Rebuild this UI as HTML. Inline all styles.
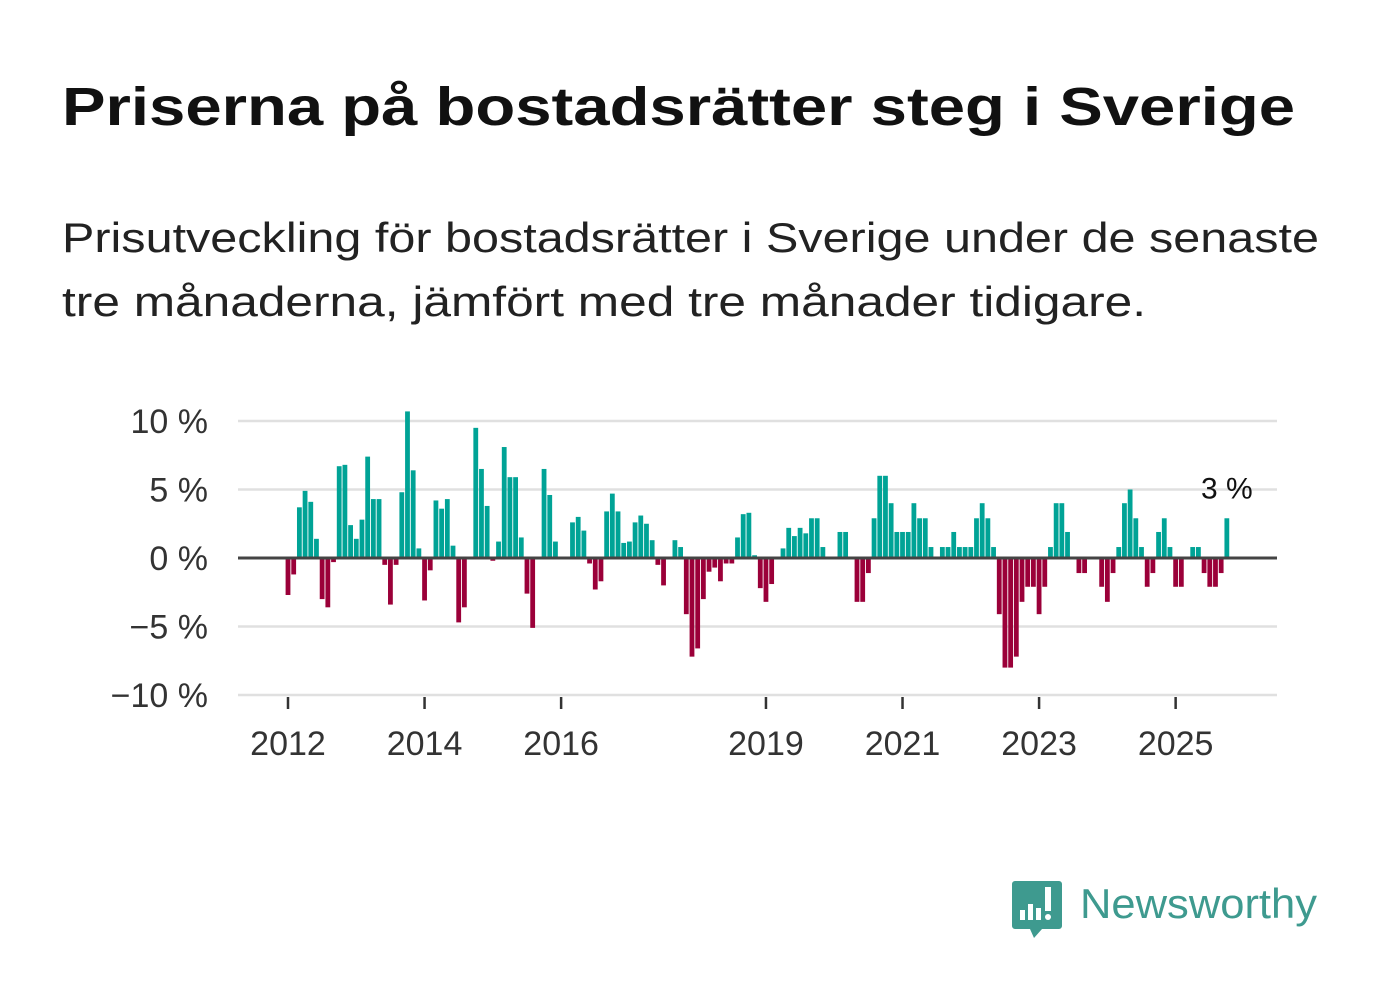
<!DOCTYPE html>
<html><head><meta charset="utf-8"><style>
html,body{margin:0;padding:0;background:#fff;}
svg{display:block;font-family:"Liberation Sans",sans-serif;}
</style></head><body>
<svg id="chart" width="1382" height="999" viewBox="0 0 1382 999" xmlns="http://www.w3.org/2000/svg">
<text x="62" y="125" font-size="54" font-weight="bold" fill="#111" textLength="1233" lengthAdjust="spacingAndGlyphs">Priserna på bostadsrätter steg i Sverige</text>
<text x="62" y="252" font-size="42" fill="#222" textLength="1257" lengthAdjust="spacingAndGlyphs">Prisutveckling för bostadsrätter i Sverige under de senaste</text>
<text x="62" y="316" font-size="42" fill="#222" textLength="1084" lengthAdjust="spacingAndGlyphs">tre månaderna, jämfört med tre månader tidigare.</text>
<g id="grid"></g>
<g id="bars"></g>
<g id="axes"></g>
<g>
<path d="M1015,881 h44 a3,3 0 0 1 3,3 v42 a3,3 0 0 1 -3,3 h-17 l-8,9 l-4,-9 h-15 a3,3 0 0 1 -3,-3 v-42 a3,3 0 0 1 3,-3z" fill="#3e9a8f"/>
<rect x="1020" y="910" width="5" height="10" fill="#fff"/>
<rect x="1028" y="904" width="5" height="16" fill="#fff"/>
<rect x="1036" y="908" width="5" height="12" fill="#fff"/>
<rect x="1045" y="887" width="6" height="24" fill="#fff"/>
<circle cx="1048" cy="917" r="3" fill="#fff"/>
<text x="1080" y="918" font-size="42" fill="#3e9a8f" textLength="237" lengthAdjust="spacingAndGlyphs">Newsworthy</text>
</g>
</svg>
<script>
const values = [-2.7,-1.2,3.7,4.9,4.1,1.4,-3.0,-3.6,-0.3,6.7,6.8,2.4,1.4,2.8,7.4,4.3,4.3,-0.5,-3.4,-0.5,4.8,10.7,6.4,0.7,-3.1,-0.9,4.2,3.6,4.3,0.9,-4.7,-3.6,0,9.5,6.5,3.8,-0.2,1.2,8.1,5.9,5.9,1.5,-2.6,-5.1,0,6.5,4.6,1.2,-0.1,0,2.6,3.0,2.0,-0.4,-2.3,-1.7,3.4,4.7,3.4,1.1,1.2,2.6,3.1,2.5,1.3,-0.5,-2.0,0,1.3,0.8,-4.1,-7.2,-6.6,-3.0,-1.0,-0.7,-1.7,-0.4,-0.4,1.5,3.2,3.3,0.2,-2.2,-3.2,-1.9,0,0.7,2.2,1.6,2.2,1.8,2.9,2.9,0.8,0,0,1.9,1.9,0,-3.2,-3.2,-1.1,2.9,6.0,6.0,4.0,1.9,1.9,1.9,4.0,2.9,2.9,0.8,0,0.8,0.8,1.9,0.8,0.8,0.8,2.9,4.0,2.9,0.8,-4.1,-8.0,-8.0,-7.2,-3.2,-2.1,-2.1,-4.1,-2.1,0.8,4.0,4.0,1.9,0,-1.1,-1.1,0,0,-2.1,-3.2,-1.1,0.8,4.0,5.0,2.9,0.8,-2.1,-1.1,1.9,2.9,0.8,-2.1,-2.1,0,0.8,0.8,-1.1,-2.1,-2.1,-1.1,2.9];
const yTicks = [10,5,0,-5,-10];
const yTickLabels = ["10 %","5 %","0 %","\u22125 %","\u221210 %"];
const xTickYears = [2012,2014,2016,2019,2021,2023,2025];
const lastLabel = "3 %";
const startYear = 2012;

const NS="http://www.w3.org/2000/svg";
const yScale = v => 558 - v*13.7;
const xMonth = i => 288 + i*5.69;
const xYear = y => xMonth((y-startYear)*12);
function mk(tag, attrs, parent){const e=document.createElementNS(NS,tag);for(const k in attrs)e.setAttribute(k,attrs[k]);parent.appendChild(e);return e;}
const grid=document.getElementById('grid'), bars=document.getElementById('bars'), axes=document.getElementById('axes');
yTicks.forEach((t,i)=>{
  if(t!==0){const l=mk('line',{x1:238,x2:1277,y1:yScale(t),y2:yScale(t),stroke:'#e0e0e0','stroke-width':2.5},grid);
  
  }
  const tx=mk('text',{x:208,y:yScale(t)+12,'font-size':34,fill:'#333','text-anchor':'end'},axes);
  tx.textContent=yTickLabels[i];
  
  
});
values.forEach((v,i)=>{
  const y0=yScale(0), y1=yScale(v);
  const r=mk('rect',{x:xMonth(i)-2.4,y:Math.min(y0,y1),width:4.8,height:Math.abs(y1-y0),fill:v>=0?'#00a396':'#9b0039'},bars);
  
  
});
const zl=mk('line',{x1:238,x2:1277,y1:yScale(0),y2:yScale(0),stroke:'#444','stroke-width':3},axes);


xTickYears.forEach(y=>{
  const x=xYear(y);
  const tk=mk('line',{x1:x,x2:x,y1:697,y2:709,stroke:'#333','stroke-width':2.5},axes);
  
  
  const tx=mk('text',{x:x,y:755,'font-size':34,fill:'#333','text-anchor':'middle'},axes);
  tx.textContent=String(y);
  
  
});
const li=values.length-1;
const lab=mk('text',{x:xMonth(li),y:yScale(values[li])-20,'font-size':30,fill:'#111','text-anchor':'middle'},axes);
lab.textContent=lastLabel;


</script>
</body></html>
